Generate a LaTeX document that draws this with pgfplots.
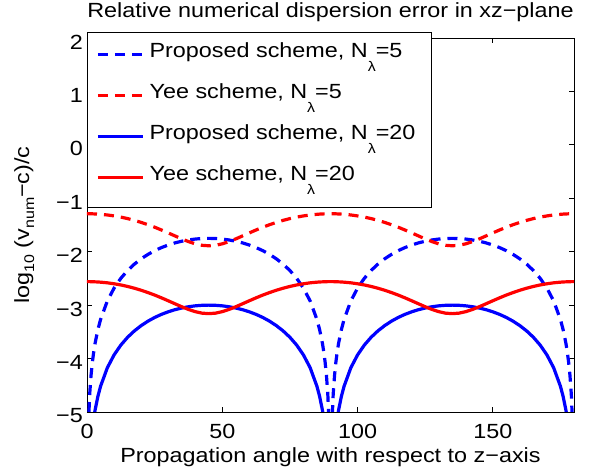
\documentclass[border=0pt]{standalone}
\usepackage{fontspec}
\setmainfont{Liberation Sans}[FakeStretch=1.14]
\usepackage{pgfplots}
\usepackage{pgfplotstable}
\pgfplotsset{compat=1.18}
\newcommand{\sub}[1]{\raisebox{-14pt}{\fontsize{14}{14}\selectfont #1}}
\newcommand{\lsub}[1]{\raisebox{-5pt}{\fontsize{14}{14}\selectfont #1}}
\pgfplotstableread{
ang ys5 ys20 ps5 ps20
0 -1.290 -2.560 -12 -12
0.5 -1.290 -2.560 -5.266 -6.516
1 -1.290 -2.560 -4.664 -5.914
1.5 -1.291 -2.561 -4.312 -5.562
2 -1.291 -2.561 -4.063 -5.313
2.5 -1.292 -2.562 -3.869 -5.119
3 -1.294 -2.564 -3.712 -4.962
4 -1.296 -2.566 -3.463 -4.713
5 -1.300 -2.570 -3.271 -4.521
7.5 -1.312 -2.582 -2.924 -4.174
10 -1.330 -2.600 -2.682 -3.932
12.5 -1.352 -2.622 -2.498 -3.748
15 -1.380 -2.650 -2.352 -3.602
17.5 -1.413 -2.683 -2.233 -3.483
20 -1.451 -2.721 -2.134 -3.384
22.5 -1.494 -2.764 -2.051 -3.301
25 -1.541 -2.811 -1.981 -3.231
27.5 -1.593 -2.863 -1.923 -3.173
30 -1.648 -2.918 -1.875 -3.125
32.5 -1.704 -2.974 -1.835 -3.085
35 -1.760 -3.030 -1.804 -3.054
37.5 -1.810 -3.080 -1.780 -3.030
40 -1.852 -3.122 -1.763 -3.013
42.5 -1.880 -3.150 -1.753 -3.003
45 -1.889 -3.159 -1.750 -3.000
47.5 -1.880 -3.150 -1.753 -3.003
50 -1.852 -3.122 -1.763 -3.013
52.5 -1.810 -3.080 -1.780 -3.030
55 -1.760 -3.030 -1.804 -3.054
57.5 -1.704 -2.974 -1.835 -3.085
60 -1.648 -2.918 -1.875 -3.125
62.5 -1.593 -2.863 -1.923 -3.173
65 -1.541 -2.811 -1.981 -3.231
67.5 -1.494 -2.764 -2.051 -3.301
70 -1.451 -2.721 -2.134 -3.384
72.5 -1.413 -2.683 -2.233 -3.483
75 -1.380 -2.650 -2.352 -3.602
77.5 -1.352 -2.622 -2.498 -3.748
80 -1.330 -2.600 -2.682 -3.932
82.5 -1.312 -2.582 -2.924 -4.174
85 -1.300 -2.570 -3.271 -4.521
86 -1.296 -2.566 -3.463 -4.713
87 -1.294 -2.564 -3.712 -4.962
87.5 -1.292 -2.562 -3.869 -5.119
88 -1.291 -2.561 -4.063 -5.313
88.5 -1.291 -2.561 -4.312 -5.562
89 -1.290 -2.560 -4.664 -5.914
89.5 -1.290 -2.560 -5.266 -6.516
90 -1.290 -2.560 -12 -12
90.5 -1.290 -2.560 -5.266 -6.516
91 -1.290 -2.560 -4.664 -5.914
91.5 -1.291 -2.561 -4.312 -5.562
92 -1.291 -2.561 -4.063 -5.313
92.5 -1.292 -2.562 -3.869 -5.119
93 -1.294 -2.564 -3.712 -4.962
94 -1.296 -2.566 -3.463 -4.713
95 -1.300 -2.570 -3.271 -4.521
97.5 -1.312 -2.582 -2.924 -4.174
100 -1.330 -2.600 -2.682 -3.932
102.5 -1.352 -2.622 -2.498 -3.748
105 -1.380 -2.650 -2.352 -3.602
107.5 -1.413 -2.683 -2.233 -3.483
110 -1.451 -2.721 -2.134 -3.384
112.5 -1.494 -2.764 -2.051 -3.301
115 -1.541 -2.811 -1.981 -3.231
117.5 -1.593 -2.863 -1.923 -3.173
120 -1.648 -2.918 -1.875 -3.125
122.5 -1.704 -2.974 -1.835 -3.085
125 -1.760 -3.030 -1.804 -3.054
127.5 -1.810 -3.080 -1.780 -3.030
130 -1.852 -3.122 -1.763 -3.013
132.5 -1.880 -3.150 -1.753 -3.003
135 -1.889 -3.159 -1.750 -3.000
137.5 -1.880 -3.150 -1.753 -3.003
140 -1.852 -3.122 -1.763 -3.013
142.5 -1.810 -3.080 -1.780 -3.030
145 -1.760 -3.030 -1.804 -3.054
147.5 -1.704 -2.974 -1.835 -3.085
150 -1.648 -2.918 -1.875 -3.125
152.5 -1.593 -2.863 -1.923 -3.173
155 -1.541 -2.811 -1.981 -3.231
157.5 -1.494 -2.764 -2.051 -3.301
160 -1.451 -2.721 -2.134 -3.384
162.5 -1.413 -2.683 -2.233 -3.483
165 -1.380 -2.650 -2.352 -3.602
167.5 -1.352 -2.622 -2.498 -3.748
170 -1.330 -2.600 -2.682 -3.932
172.5 -1.312 -2.582 -2.924 -4.174
175 -1.300 -2.570 -3.271 -4.521
176 -1.296 -2.566 -3.463 -4.713
177 -1.294 -2.564 -3.712 -4.962
177.5 -1.292 -2.562 -3.869 -5.119
178 -1.291 -2.561 -4.063 -5.313
178.5 -1.291 -2.561 -4.312 -5.562
179 -1.290 -2.560 -4.664 -5.914
179.5 -1.290 -2.560 -5.266 -6.516
180 -1.290 -2.560 -12 -12
}\data
\begin{document}
\begin{tikzpicture}[x=1pt,y=1pt]
\useasboundingbox (-87,-62) rectangle (507,412);
\begin{axis}[
  at={(0,0)}, anchor=south west,
  scale only axis, width=487pt, height=374pt,
  xmin=0, xmax=180, ymin=-5, ymax=2,
  xtick={0,50,100,150}, xticklabels={0,50,100,150},
  ytick={-5,-4,-3,-2,-1,0,1,2},
  yticklabels={−5,−4,−3,−2,−1,0,1,2},
  tick align=inside, major tick length=5pt,
  tick style={black, line width=0.8pt},
  axis line style={black, line width=0.8pt},
  font=\fontsize{20.5}{24}\selectfont,
  xticklabel style={anchor=base, inner sep=0pt, yshift=-27pt},
  yticklabel style={anchor=east, inner sep=0pt, xshift=-4pt, yshift=-4pt},
  title={Relative numerical dispersion error in xz−plane},
  title style={at={(axis description cs:0.5,1)}, anchor=base, inner sep=0pt, yshift=15pt},
  xlabel={Propagation angle with respect to z−axis},
  xlabel style={at={(axis description cs:0.5,0)}, anchor=base, inner sep=0pt, yshift=-51pt},
  ylabel={log\lsub{10} (v\lsub{num}−c)/c},
  ylabel style={at={(axis description cs:-0.119,0.5)}, anchor=base, inner sep=0pt},
  legend cell align=left,
  legend image code/.code={\draw[#1] (0pt,3pt) -- (45pt,3pt);},
  legend style={at={(axis description cs:0,1)}, anchor=north west, yshift=6pt,
    draw=black, line width=0.8pt, fill=white, inner xsep=9pt, inner ysep=6pt,
    row sep=1.5pt, column sep=5pt,
    nodes={inner sep=0pt, text height=19pt, text depth=20.5pt, anchor=base west},
    font=\fontsize{20.5}{24}\selectfont},
]
\addplot[blue, line width=3.2pt, dash pattern=on 10pt off 7pt] table[x=ang,y=ps5]{\data};
\addlegendentry{Proposed scheme, N\sub{λ}=5}
\addplot[red, line width=3.2pt, dash pattern=on 10pt off 7pt] table[x=ang,y=ys5]{\data};
\addlegendentry{Yee scheme, N\sub{λ}=5}
\addplot[blue, line width=3.2pt] table[x=ang,y=ps20]{\data};
\addlegendentry{Proposed scheme, N\sub{λ}=20\kern7pt}
\addplot[red, line width=3.2pt] table[x=ang,y=ys20]{\data};
\addlegendentry{Yee scheme, N\sub{λ}=20}
\end{axis}
\end{tikzpicture}
\end{document}
